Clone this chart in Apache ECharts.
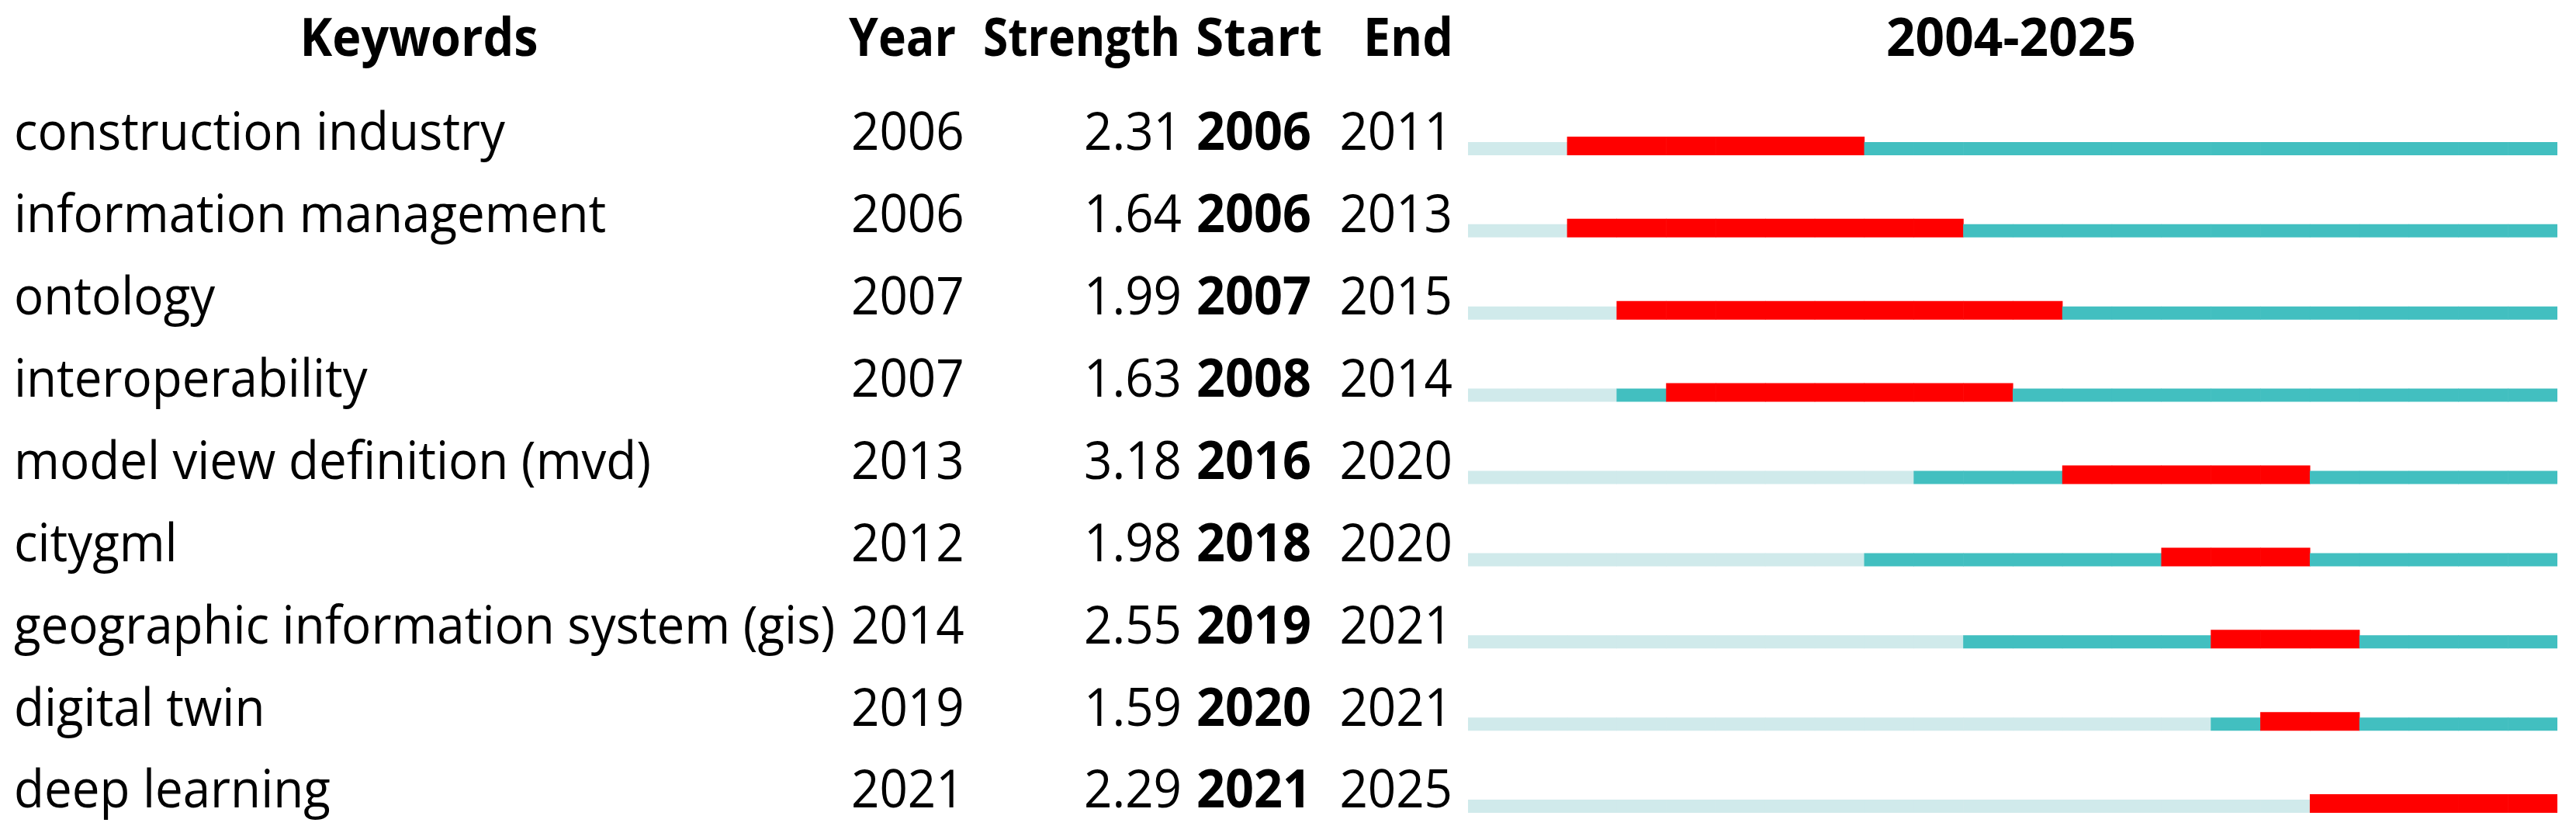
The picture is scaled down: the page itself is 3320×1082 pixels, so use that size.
<!DOCTYPE html>
<html>
<head>
<meta charset="utf-8">
<script src="https://cdn.jsdelivr.net/npm/echarts@6/dist/echarts.min.js"></script>
<style>
html,body{margin:0;padding:0;background:#fff;}
#chart{width:3320px;height:1082px;}
</style>
</head>
<body>
<div id="chart"></div>
<script>
// ---- data ----
const keywords = ['construction industry','information management','ontology','interoperability','model view definition (mvd)','citygml','geographic information system (gis)','digital twin','deep learning'];
const keywordYears = [2006, 2006, 2007, 2007, 2013, 2012, 2014, 2019, 2021];
const strengths = [2.31, 1.64, 1.99, 1.63, 3.18, 1.98, 2.55, 1.59, 2.29];
const burstBegins = [2006, 2006, 2007, 2008, 2016, 2018, 2019, 2020, 2021];
const burstEnds = [2011, 2013, 2015, 2014, 2020, 2020, 2021, 2021, 2025];
const rangeStart = 2004;
const rangeEnd = 2025;
const headerLabels = ['Keywords', 'Year', 'Strength', 'Start', 'End'];

// ---- styles ----
const RED = '#ff0000';
const TEAL = '#42bfc0';
const LIGHT = '#d0eaeb';
const FAMILY = '"Open Sans", "Noto Sans", sans-serif';
const BODY_FONT = '68px ' + FAMILY;
const BOLD_FONT = 'bold 68px ' + FAMILY;
const HEAD_FONT = 'bold 68px ' + FAMILY;

const mctx = document.createElement('canvas').getContext('2d');
function tw(t, font) { mctx.font = font; return mctx.measureText(t).width; }
const bodyScale = 633 / tw(keywords[0], BODY_FONT);
const boldScale = 148 / tw(String(burstBegins[0]), BOLD_FONT);
function fit(t, w) { return w / tw(t, HEAD_FONT); }

function txt(text, x, y, align, font, sx) {
  return {
    type: 'text', x: x, y: y, scaleX: sx, scaleY: 1,
    style: { text: text, x: 0, y: 0, font: font, fill: '#000',
      align: align, verticalAlign: 'middle', textAlign: align, textVerticalAlign: 'middle' }
  };
}

const chart = echarts.init(document.getElementById('chart'), null, { renderer: 'canvas' });

function renderItem(params, api) {
  const i = api.value(0);
  const yc = api.coord([rangeStart, i])[1];
  const barBottom = yc + 20;
  const children = [];
  for (let yr = rangeStart; yr <= rangeEnd; yr++) {
    const x0 = api.coord([yr, i])[0];
    const x1 = api.coord([yr + 1, i])[0];
    let color = LIGHT, h = 17;
    if (yr >= burstBegins[i] && yr <= burstEnds[i]) { color = RED; h = 24; }
    else if (yr >= keywordYears[i]) { color = TEAL; }
    const overlap = yr < rangeEnd ? 0.6 : 0;
    children.push({ type: 'rect', shape: { x: x0, y: barBottom - h, width: x1 - x0 + overlap, height: h }, style: { fill: color } });
  }
  const ty = barBottom - 26;
  children.push(txt(keywords[i], 18, ty, 'left', BODY_FONT, bodyScale));
  children.push(txt(String(keywordYears[i]), 1097, ty, 'left', BODY_FONT, bodyScale));
  children.push(txt(strengths[i].toFixed(2), 1523, ty, 'right', BODY_FONT, bodyScale));
  children.push(txt(String(burstBegins[i]), 1542, ty, 'left', BOLD_FONT, boldScale));
  children.push(txt(String(burstEnds[i]), 1872, ty, 'right', BODY_FONT, bodyScale));
  return { type: 'group', children: children };
}

const headerY = 53;
const rangeLabel = rangeStart + '-' + rangeEnd;
const option = {
  animation: false,
  backgroundColor: '#fff',
  grid: { left: 1892, right: 24, top: 127, bottom: 2, containLabel: false },
  xAxis: { type: 'value', min: rangeStart, max: rangeEnd + 1, show: false },
  yAxis: { type: 'category', data: keywords, inverse: true, show: false },
  graphic: [
    txt(headerLabels[0], 540, headerY, 'center', HEAD_FONT, fit(headerLabels[0], 307)),
    txt(headerLabels[1], 1163, headerY, 'center', HEAD_FONT, fit(headerLabels[1], 138)),
    txt(headerLabels[2], 1521, headerY, 'right', HEAD_FONT, fit(headerLabels[2], 254)),
    txt(headerLabels[3], 1541, headerY, 'left', HEAD_FONT, fit(headerLabels[3], 163)),
    txt(headerLabels[4], 1873, headerY, 'right', HEAD_FONT, fit(headerLabels[4], 116)),
    txt(rangeLabel, 2592, headerY, 'center', HEAD_FONT, fit(rangeLabel, 322))
  ],
  series: [{
    type: 'custom',
    renderItem: renderItem,
    data: keywords.map((k, i) => [i]),
    encode: { y: 0 },
    clip: false,
    silent: true
  }]
};
chart.setOption(option);
</script>
</body>
</html>
